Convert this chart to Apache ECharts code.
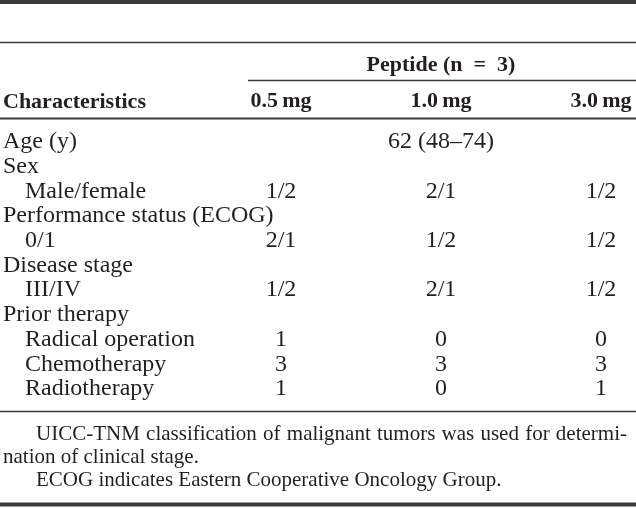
<!DOCTYPE html>
<html>
<head>
<meta charset="utf-8">
<script src="https://cdn.jsdelivr.net/npm/echarts@6/dist/echarts.min.js"></script>
<style>
html,body{margin:0;padding:0;background:#fff;}
#chart{width:636px;height:508px;}
</style>
</head>
<body>
<div id="chart"></div>
<script>
// ---- table content ----
const stubHeader = 'Characteristics';
const groupHeader = 'Peptide (n\u2002=\u20023)';
const doseColumns = ['0.5\u2009mg', '1.0\u2009mg', '3.0\u2009mg'];
const rowLabels = ['Age (y)', 'Sex', 'Male/female', 'Performance status (ECOG)', '0/1',
  'Disease stage', 'III/IV', 'Prior therapy', 'Radical operation', 'Chemotherapy', 'Radiotherapy'];
const rowIndent = [0, 0, 1, 0, 1, 0, 1, 0, 1, 1, 1];
const col05 = ['', '', '1/2', '', '2/1', '', '1/2', '', '1', '3', '1'];
const col10 = ['62 (48\u201374)', '', '2/1', '', '1/2', '', '2/1', '', '0', '3', '0'];
const col30 = ['', '', '1/2', '', '1/2', '', '1/2', '', '0', '3', '1'];
const footnotes = [
  'UICC-TNM classification of malignant tumors was used for determi-',
  'nation of clinical stage.',
  'ECOG indicates Eastern Cooperative Oncology Group.'
];

const INK = '#231f20';
const FONT = '"Liberation Serif", "Times New Roman", serif';
const BODY = 24;
const columns = [col05, col10, col30];

const chart = echarts.init(document.getElementById('chart'), null, {renderer: 'canvas'});

const series = columns.map((col, c) => ({
  type: 'scatter',
  symbolSize: 1,
  itemStyle: {color: '#ffffff'},
  silent: true,
  data: col.map((txt, r) => [c, r, txt]).filter(d => d[2] !== ''),
  label: {
    show: true,
    position: 'inside',
    formatter: p => p.value[2],
    color: INK,
    opacity: 1,
    textBorderWidth: 0,
    textBorderColor: 'transparent',
    fontFamily: FONT,
    fontSize: BODY,
    align: 'center',
    verticalAlign: 'middle'
  }
}));

const lineColor = '#3a3a3a';
function hline(x1, x2, y, w) {
  return {type: 'line', shape: {x1: x1, y1: y, x2: x2, y2: y}, style: {stroke: lineColor, lineWidth: w}, silent: true};
}
function txt(text, x, y, opts) {
  return {type: 'text', x: x, y: y, silent: true,
    style: Object.assign({text: text, fill: INK, font: BODY + 'px ' + FONT, textAlign: 'left', textVerticalAlign: 'middle'}, opts || {})};
}

// justified footnote line (word by word spread across the measure)
const ctx = document.createElement('canvas').getContext('2d');
const footFont = '21px ' + FONT;
ctx.font = footFont;
function justified(text, x0, x1, y) {
  const words = text.split(' ');
  const widths = words.map(w => ctx.measureText(w).width);
  const total = widths.reduce((a, b) => a + b, 0);
  const gap = (x1 - x0 - total) / (words.length - 1);
  const out = [];
  let x = x0;
  words.forEach((w, i) => {
    out.push(txt(w, x, y, {font: footFont}));
    x += widths[i] + gap;
  });
  return out;
}

const option = {
  animation: false,
  backgroundColor: '#fff',
  grid: {left: 201, right: -45, top: 129.6, bottom: 106.7, containLabel: false, outerBoundsMode: 'none'},
  xAxis: {
    type: 'category',
    position: 'top',
    data: doseColumns,
    axisLine: {show: false},
    axisTick: {show: false},
    splitLine: {show: false},
    axisLabel: {
      color: INK, fontFamily: FONT, fontWeight: 'bold', fontSize: 22, margin: 17
    }
  },
  yAxis: {
    type: 'category',
    inverse: true,
    data: rowLabels,
    axisLine: {show: false},
    axisTick: {show: false},
    splitLine: {show: false},
    axisLabel: {
      align: 'left',
      margin: 198,
      formatter: (v, i) => rowIndent[i] ? '{ind|' + v + '}' : '{top|' + v + '}',
      rich: {
        top: {color: INK, fontFamily: FONT, fontSize: BODY},
        ind: {color: INK, fontFamily: FONT, fontSize: BODY, padding: [0, 0, 0, 22]}
      }
    }
  },
  series: series,
  graphic: [
    hline(0, 636, 2, 4),
    hline(0, 636, 42.5, 1.5),
    hline(248, 636, 80.5, 1.5),
    hline(0, 636, 118.5, 2),
    hline(0, 636, 411.5, 1.5),
    hline(0, 636, 504.5, 4),
    txt(groupHeader, 441, 65, {font: 'bold 22px ' + FONT, textAlign: 'center'}),
    txt(stubHeader, 3, 102, {font: 'bold 22px ' + FONT}),
    ...justified(footnotes[0], 36, 627, 434),
    txt(footnotes[1], 3, 457, {font: footFont}),
    txt(footnotes[2], 36, 480, {font: footFont})
  ]
};
chart.setOption(option);
</script>
</body>
</html>
